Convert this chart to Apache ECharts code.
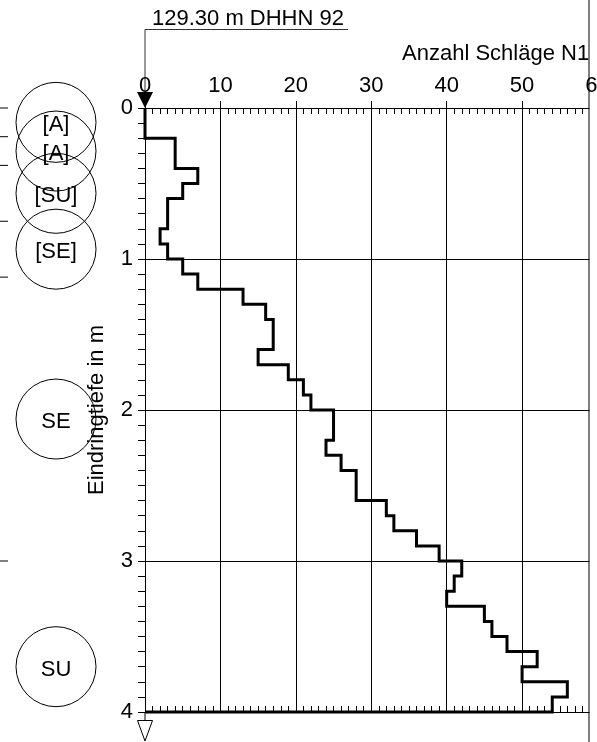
<!DOCTYPE html>
<html><head><meta charset="utf-8">
<script src="https://cdn.jsdelivr.net/npm/echarts@6/dist/echarts.min.js"></script>
<style>html,body{margin:0;padding:0;background:#fff}#c{width:597px;height:742px}</style>
</head><body><div id="c"></div>
<script>
// Blow counts N10 per 0.1 m depth interval (depth of interval top in m)
const depthTops = [0.0,0.1,0.2,0.3,0.4,0.5,0.6,0.7,0.8,0.9,1.0,1.1,1.2,1.3,1.4,1.5,1.6,1.7,1.8,1.9,2.0,2.1,2.2,2.3,2.4,2.5,2.6,2.7,2.8,2.9,3.0,3.1,3.2,3.3,3.4,3.5,3.6,3.7,3.8,3.9];
const blows = [0,0,4,4,7,5,3,3,2,3,5,7,13,16,17,17,15,19,21,22,25,25,24,26,28,28,32,33,36,39,42,41,40,45,46,48,52,50,56,54];
const stepSize = 0.1;
const xTicks = [0,10,20,30,40,50,60];
const yTicks = [0,1,2,3,4];
// Soil layers (left column)
const layerNames = ['[A]','[A]','[SU]','[SE]','SE','SU'];
const layerCenters = [0.095,0.285,0.565,0.935,2.06,3.70];
const layerBounds = [0,0.19,0.38,0.75,1.12,3.0];
const elevationText = '129.30 m DHHN 92';
const xTitle = 'Anzahl Schläge N10';
const yTitle = 'Eindringtiefe in m';

const FONT = '"Liberation Sans", Arial, Helvetica, sans-serif';
const FS = 22;

// build step polyline
const stepPts = [];
for (let i = 0; i < blows.length; i++) {
  stepPts.push([blows[i], depthTops[i]]);
  stepPts.push([blows[i], +(depthTops[i] + stepSize).toFixed(2)]);
}
stepPts.push([0, +(depthTops[depthTops.length-1] + stepSize).toFixed(2)]);

const chart = echarts.init(document.getElementById('c'), null, {renderer:'canvas'});
const black = '#000';
const option = {
  animation: false,
  backgroundColor: '#fff',
  textStyle: {fontFamily: FONT},
  grid: [
    {left: 145, top: 108, width: 452.5, height: 604, containLabel: false, outerBoundsMode: 'none'},
    {left: 0, top: 108, width: 112, height: 604, containLabel: false, outerBoundsMode: 'none'}
  ],
  xAxis: [
    {gridIndex:0, type:'value', position:'top', min:xTicks[0], max:xTicks[xTicks.length-1], interval:10,
     axisLine:{show:true, lineStyle:{color:black,width:1}},
     axisTick:{show:true, inside:false, length:7, lineStyle:{color:black,width:1}},
     axisLabel:{show:true, color:black, fontSize:FS, fontFamily:FONT, margin:11, showMaxLabel:true, showMinLabel:true, hideOverlap:false},
     splitLine:{show:true, lineStyle:{color:black,width:1}}},
    {gridIndex:0, type:'value', position:'top', min:0, max:60, interval:1,
     axisLine:{show:false}, axisLabel:{show:false}, splitLine:{show:false},
     axisTick:{show:true, inside:true, length:6, lineStyle:{color:black,width:1}}},
    {gridIndex:0, type:'value', position:'bottom', min:0, max:60, interval:1,
     axisLine:{show:true, lineStyle:{color:black,width:1}}, axisLabel:{show:false}, splitLine:{show:false},
     axisTick:{show:true, inside:true, length:6, lineStyle:{color:black,width:1}}},
    {gridIndex:1, type:'value', min:0, max:112, show:false}
  ],
  yAxis: [
    {gridIndex:0, type:'value', inverse:true, min:yTicks[0], max:yTicks[yTicks.length-1], interval:1,
     name: yTitle, nameLocation:'middle', nameGap:37, nameRotate:90,
     nameTextStyle:{color:black, fontSize:FS, fontFamily:FONT},
     axisLine:{show:true, lineStyle:{color:black,width:1}},
     axisTick:{show:true, inside:false, length:5, lineStyle:{color:black,width:1}},
     axisLabel:{show:true, color:black, fontSize:FS, fontFamily:FONT, margin:12},
     splitLine:{show:true, lineStyle:{color:black,width:1}}},
    {gridIndex:0, type:'value', inverse:true, min:0, max:4, interval:0.1,
     axisLine:{show:false}, axisLabel:{show:false}, splitLine:{show:false},
     axisTick:{show:true, inside:true, length:7, lineStyle:{color:black,width:1}}},
    {gridIndex:1, type:'value', inverse:true, min:0, max:4, show:false}
  ],
  series: [
    {type:'line', xAxisIndex:0, yAxisIndex:0, data: stepPts, showSymbol:false, symbol:'none', clip:false,
     lineStyle:{color:black, width:3, join:'miter'}, z:5},
    {type:'scatter', xAxisIndex:3, yAxisIndex:2, symbol:'circle', symbolSize:80,
     data: layerCenters.map((d,i)=>({value:[56,d], name:layerNames[i]})),
     itemStyle:{color:'rgba(0,0,0,0)', borderColor:black, borderWidth:1, opacity:1},
     emphasis:{disabled:true},
     label:{show:true, position:'inside', formatter:p=>p.name, color:black, fontSize:FS, fontFamily:FONT, offset:[0,3]}, z:3},
    {type:'scatter', xAxisIndex:3, yAxisIndex:2, symbol:'rect', symbolSize:[8,1],
     emphasis:{disabled:true},
     data: layerBounds.map(d=>[4,d]), itemStyle:{color:black, opacity:1}, z:3}
  ],
  graphic: [
    {type:'line', shape:{x1:145, y1:29.5, x2:348, y2:29.5}, style:{stroke:'#333', lineWidth:1}},
    {type:'line', shape:{x1:145, y1:29.5, x2:145, y2:93}, style:{stroke:'#333', lineWidth:1}},
    {type:'text', x:152, y:19, style:{text: elevationText, font: FS+'px '+FONT, fill:black, verticalAlign:'middle'}},
    {type:'text', x:402, y:54, style:{text: xTitle, font: FS+'px '+FONT, fill:black, verticalAlign:'middle'}, z:1},
    {type:'polygon', shape:{points:[[137,92],[153,92],[145,108]]}, style:{fill:black}, z:10},
    {type:'line', shape:{x1:145, y1:712, x2:145, y2:720}, style:{stroke:black, lineWidth:1}, z:10},
    {type:'polygon', shape:{points:[[137.5,720.5],[152.5,720.5],[145,741]]}, style:{fill:'#fff', stroke:black, lineWidth:1}, z:10},
    {type:'rect', shape:{x:589.5, y:38, width:10, height:35}, style:{fill:'#fff'}, z:50},
    {type:'rect', shape:{x:589.5, y:99, width:10, height:650}, style:{fill:'#fff'}, z:50},
    {type:'line', shape:{x1:589, y1:0, x2:589, y2:742}, style:{stroke:black, lineWidth:1}, z:60}
  ]
};
chart.setOption(option);
</script></body></html>
